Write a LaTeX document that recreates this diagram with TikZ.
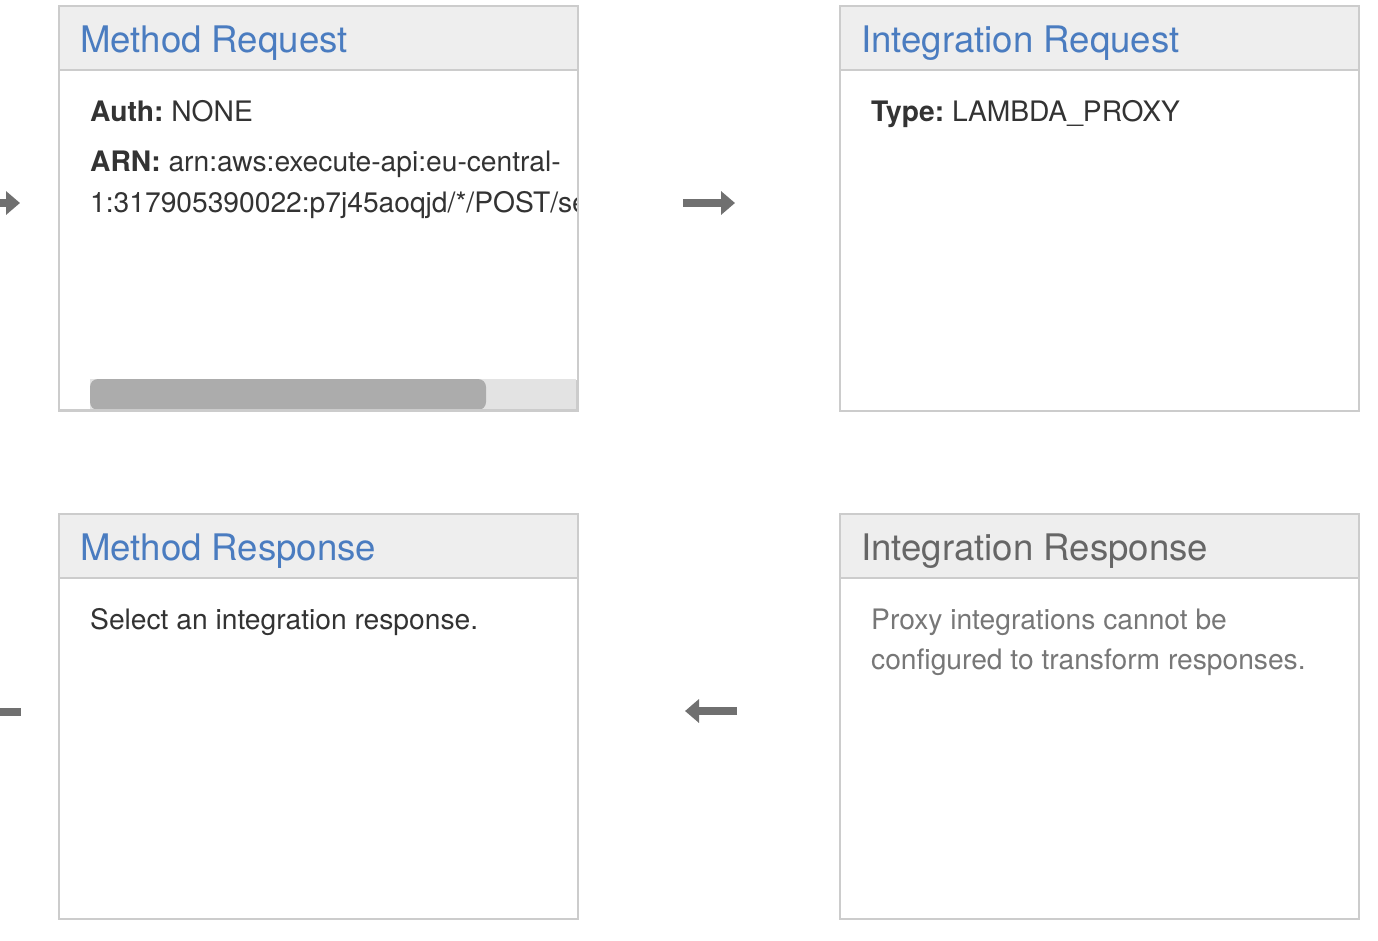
\documentclass[tikz,border=0pt]{standalone}
\usepackage{fontspec}
\setmainfont{TeX Gyre Heros}
\frenchspacing
\usetikzlibrary{arrows.meta,calc}
\definecolor{bordergray}{RGB}{204,204,204}
\definecolor{headfill}{RGB}{238,238,238}
\definecolor{titleblue}{RGB}{74,124,192}
\definecolor{titlegray}{RGB}{102,102,102}
\definecolor{bodytext}{RGB}{51,51,51}
\definecolor{muted}{RGB}{119,119,119}
\definecolor{arrowgray}{RGB}{112,112,112}
\definecolor{trackgray}{RGB}{227,227,227}
\definecolor{thumbgray}{RGB}{172,172,172}
\tikzset{
  panel/.style={draw=bordergray, line width=2pt, fill=white, rectangle, minimum width=519pt, minimum height=405pt, inner sep=0pt, anchor=north west},
  header/.style={draw=bordergray, line width=2pt, fill=headfill, rectangle, minimum width=519pt, minimum height=64pt, inner sep=0pt, anchor=north west},
  titletext/.style={anchor=base west, inner sep=0pt, font=\fontsize{36.6}{40}\selectfont},
  bodystyle/.style={anchor=base west, inner sep=0pt, text=bodytext, font=\fontsize{28.2}{40}\selectfont},
  flow/.style={draw=arrowgray, line width=8pt, -{Triangle[length=14pt,width=23pt]}},
  flowbare/.style={draw=arrowgray, line width=8pt},
}
\begin{document}
\begin{tikzpicture}[x=1pt,y=-1pt]
\useasboundingbox (0,0) rectangle (1378,940);
% panels
\node[panel] (mreq) at (58,5) {};
\node[panel] (ireq) at (839,5) {};
\node[panel] (mres) at (58,513) {};
\node[panel] (ires) at (839,513) {};
% headers
\node[header] (mreqh) at (58,5) {};
\node[header] (ireqh) at (839,5) {};
\node[header] (mresh) at (58,513) {};
\node[header] (iresh) at (839,513) {};
% titles
\node[titletext, text=titleblue] (t1) at (80,52) {Method Request};
\node[titletext, text=titleblue] (t2) at (861,52) {Integration Request};
\node[titletext, text=titleblue] (t3) at (80,560) {Method Response};
\node[titletext, text=titlegray] (t4) at (861,560) {Integration Response};
% method request body
\node[bodystyle] (auth) at (90,121) {\textbf{Auth:} NONE};
\node[bodystyle] (arn1) at (90,171) {\textbf{ARN:} arn:aws:execute-api:eu-central-};
\begin{scope}
  \clip (59,180) rectangle (576,230);
  \node[bodystyle] (arn2) at (90,212) {1:317905390022:p7j45aoqjd/*/POST/se};
\end{scope}
% scrollbar
\fill[trackgray] (90,379) rectangle (576,410);
\fill[thumbgray, rounded corners=8pt] (90,379) rectangle (486,410);
\draw[bordergray, line width=2pt] (58,410) -- (577,410) -- (577,380);
% integration request body
\node[bodystyle] (type) at (871,121) {\textbf{Type:} LAMBDA\_PROXY};
% method response body
\node[bodystyle] (sel) at (90,629) {Select an integration response.};
% integration response body
\node[bodystyle, text=muted] (px1) at (871,629) {Proxy integrations cannot be};
\node[bodystyle, text=muted] (px2) at (871,669) {configured to transform responses.};
% arrows
\coordinate (a1s) at ($(mreq.east |- 0,203)+(104,0)$);
\coordinate (a1e) at ($(ireq.west |- 0,203)+(-104,0)$);
\draw[flow] (a1s) -- (a1e);
\coordinate (a2s) at ($(ires.west |- 0,711)+(-102,0)$);
\coordinate (a2e) at ($(mres.east |- 0,711)+(106,0)$);
\draw[flow] (a2s) -- (a2e);
\coordinate (l1s) at (-2,203);
\coordinate (l1e) at (20,203);
\draw[flow] (l1s) -- (l1e);
\coordinate (l2s) at (-2,712);
\coordinate (l2e) at (21,712);
\draw[flowbare] (l2s) -- (l2e);
\end{tikzpicture}
\end{document}
